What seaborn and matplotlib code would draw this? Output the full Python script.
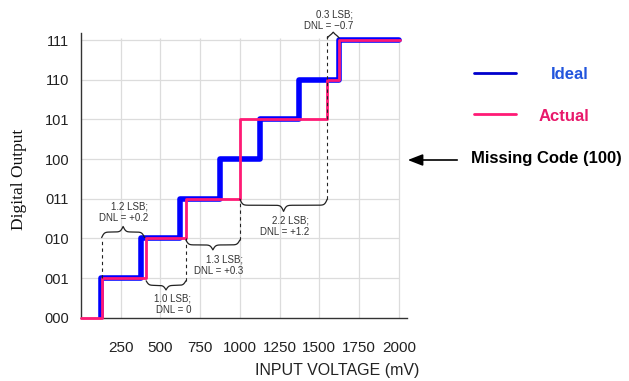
import numpy as np
import pandas as pd
import matplotlib
matplotlib.use("Agg")
import matplotlib.pyplot as plt
import seaborn as sns

# ADC transfer function: code held up to each transition voltage (mV)
ideal_mv = [125, 375, 625, 875, 1125, 1375, 1625, 2000]
ideal_code = [0, 1, 2, 3, 4, 5, 6, 7]
actual_mv = [0, 130, 410, 660, 1000, 1550, 1625, 2010]
actual_code = [0, 0, 1, 2, 3, 5, 6, 7]

x_ticks = [250, 500, 750, 1000, 1250, 1500, 1750, 2000]
code_labels = ["000", "001", "010", "011", "100", "101", "110", "111"]

# DNL callouts (code width of the actual steps)
dnl_spans = [(130, 400), (410, 660), (660, 1000), (1000, 1550), (1550, 1625)]
dnl_labels = ["1.2 LSB;\nDNL = +0.2", "1.0 LSB;\nDNL = 0", "1.3 LSB;\nDNL = +0.3",
              "2.2 LSB;\nDNL = +1.2", "0.3 LSB;\nDNL = \u22120.7"]

BLUE = "#0000ff"
PINK = "#ff1a75"


def brace(ax, x0, x1, y_end, y_tip, beta=0.12):
    # curly brace between x0 and x1, ends at y_end, point at y_tip
    x = np.linspace(x0, x1, 301)
    half = x[:151]
    yh = (1 / (1 + np.exp(-beta * (half - half[0])))
          + 1 / (1 + np.exp(-beta * (half - half[-1]))))
    full = np.concatenate((yh, yh[-2::-1]))
    y = y_end + (full - 0.5) * (y_tip - y_end)
    ax.plot(x, y, color="#222222", lw=0.9, clip_on=False, zorder=4)


def main():
    sns.set_style("white")
    plt.rcParams["font.family"] = ["Liberation Sans", "DejaVu Sans"]

    fig = plt.figure(figsize=(6.29, 3.81), dpi=100)
    ax = fig.add_axes([81 / 629, 63.3 / 381, 325.7 / 629, 284.8 / 381])

    # grid only over the 0..2000 mV / 000..111 region
    ax.vlines(x_ticks, 0, 7.05, color="#dcdcdc", lw=0.9, zorder=0)
    ax.hlines(range(1, 8), 0, 2000, color="#dcdcdc", lw=0.9, zorder=0)

    ideal = pd.DataFrame({"mv": ideal_mv, "code": ideal_code})
    actual = pd.DataFrame({"mv": actual_mv, "code": actual_code})
    sns.lineplot(data=ideal, x="mv", y="code", drawstyle="steps-pre",
                 color=BLUE, lw=4, ax=ax, zorder=2)
    sns.lineplot(data=actual, x="mv", y="code", drawstyle="steps-pre",
                 color=PINK, lw=2, ax=ax, clip_on=False, zorder=3)

    # DNL braces, dashed guides and labels
    brace_y = [(2.02, 2.30), (0.93, 0.70), (1.96, 1.71), (2.99, 2.68), (7.05, 7.20)]
    text_pos = [(424, 2.66), (694, 0.33), (1022, 1.32), (1437, 2.31), (1714, 7.49)]
    for (x0, x1), (ye, yt), (tx, ty), lab in zip(dnl_spans, brace_y, text_pos, dnl_labels):
        brace(ax, x0, x1, ye, yt)
        ax.text(tx, ty, lab, ha="right", va="center", multialignment="right",
                fontsize=7, color="#333333", linespacing=1.2, zorder=5)

    guides = [(130, 1.0, 2.02), (660, 0.93, 2.0), (1000, 1.96, 3.0), (1550, 2.99, 7.18)]
    for gx, g0, g1 in guides:
        ax.plot([gx, gx], [g0, g1], color="#222222", lw=0.8, ls=(0, (3, 3)),
                clip_on=False, zorder=4)

    ax.set_xlim(0, 2050)
    ax.set_ylim(0, 7.18)
    ax.set_xticks(x_ticks)
    ax.set_xticklabels([str(v) for v in x_ticks], fontsize=11, color="#222222")
    ax.set_yticks(range(8))
    ax.set_yticklabels(code_labels, fontsize=10.5, color="#222222")
    ax.tick_params(axis="x", direction="inout", length=8, width=1,
                   color="#333333", pad=12.5)
    ax.tick_params(axis="y", direction="inout", length=8, width=1,
                   color="#333333", pad=4.5)
    ax.set_xlabel("")
    ax.set_ylabel("")
    for side in ["top", "right"]:
        ax.spines[side].set_visible(False)
    for side in ["left", "bottom"]:
        ax.spines[side].set_color("#333333")
        ax.spines[side].set_linewidth(1.0)

    # overlay in pixel coordinates for labels and the legend
    ov = fig.add_axes([0, 0, 1, 1], zorder=10)
    ov.set_xlim(0, 629)
    ov.set_ylim(381, 0)
    ov.axis("off")
    ov.patch.set_alpha(0)

    ov.text(336.7, 370, "INPUT VOLTAGE (mV)", ha="center", va="center",
            fontsize=11.5, color="#222222")
    ov.text(19, 179.5, "Digital Output", ha="center", va="center", rotation=90,
            fontsize=12.5, color="#111111", family=["Liberation Serif", "DejaVu Serif"])

    ov.plot([474, 516], [72.5, 72.5], color="#0000cc", lw=2)
    ov.plot([474, 516], [113.5, 113.5], color=PINK, lw=2)
    ov.text(589, 74.3, "Ideal", ha="right", va="center", fontsize=12,
            fontweight="bold", color="#2255dd")
    ov.text(589, 116.7, "Actual", ha="right", va="center", fontsize=12,
            fontweight="bold", color="#e8186a")
    ov.annotate("", xy=(405, 160), xytext=(460, 160),
                arrowprops=dict(arrowstyle="-|>,head_length=0.9,head_width=0.35",
                                color="black", lw=1.2))
    ov.text(470.7, 159, "Missing Code (100)", ha="left", va="center",
            fontsize=12, fontweight="bold", color="black")

    fig.savefig("out.png", dpi=100)
    plt.close(fig)


if __name__ == "__main__":
    main()
